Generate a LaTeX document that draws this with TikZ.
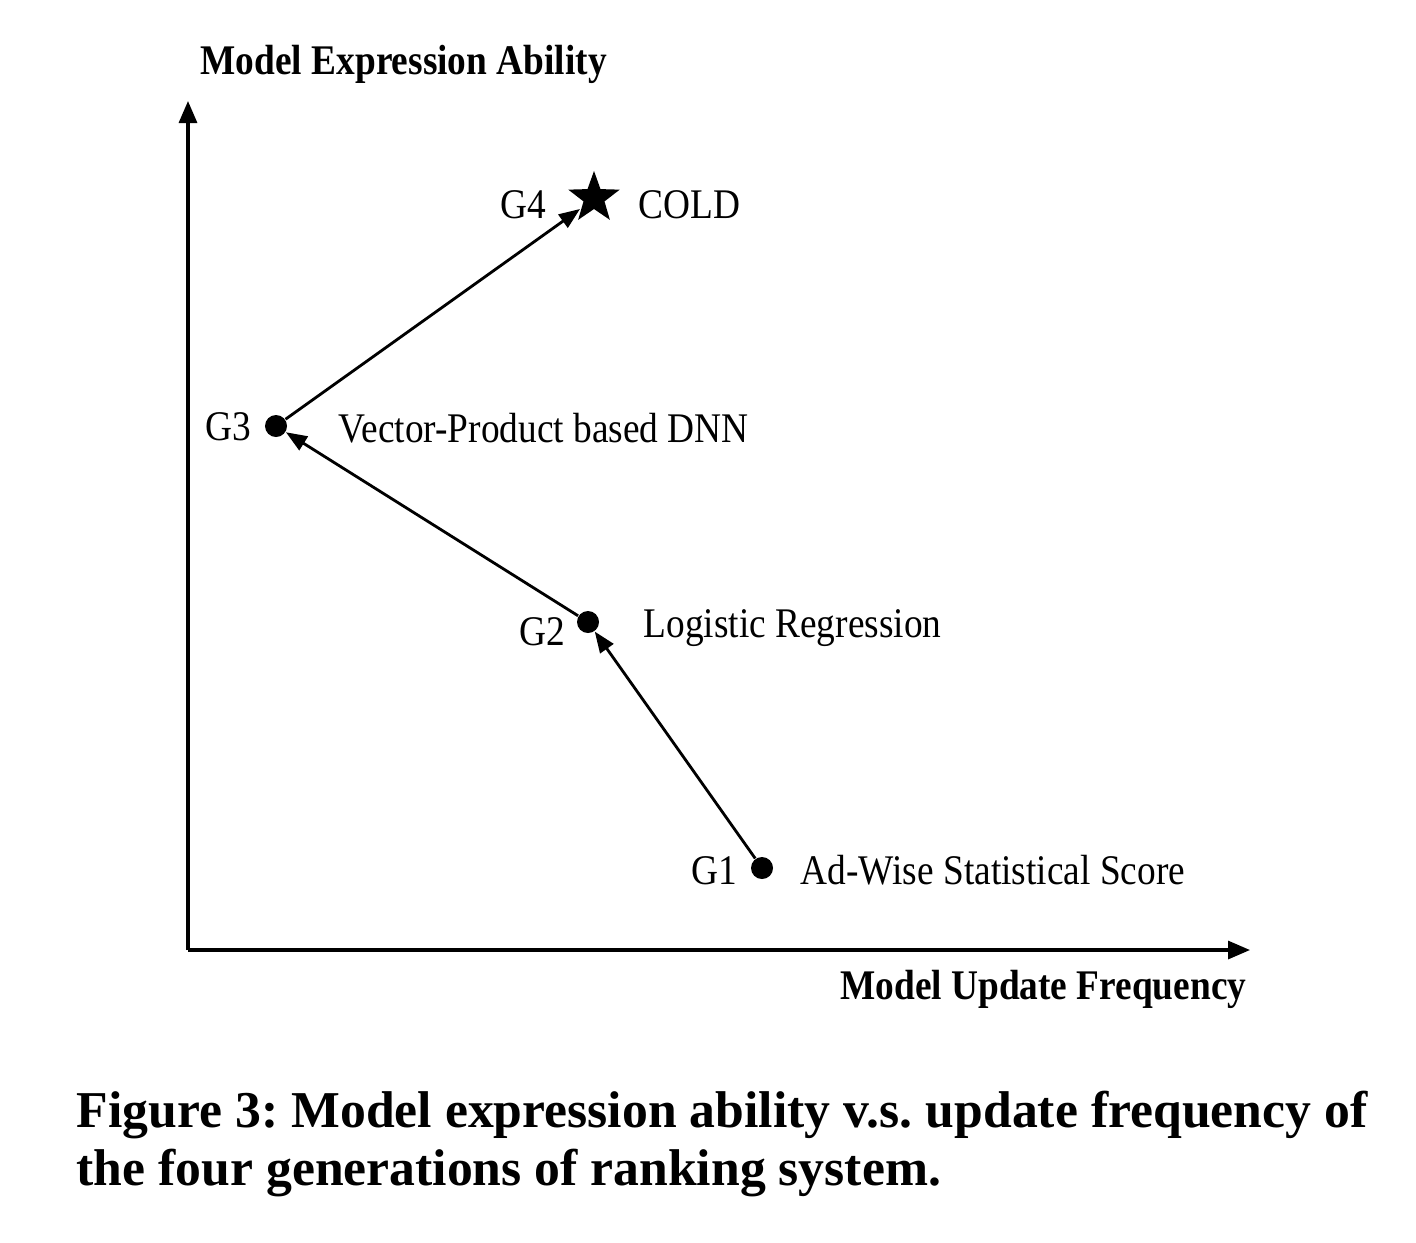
\documentclass[tikz,border=0pt]{standalone}
\usepackage{fontspec}
\setmainfont[FakeStretch=0.885]{Liberation Serif}
\newfontfamily\capfont{Liberation Serif}
\usetikzlibrary{arrows.meta,shapes.geometric}
\begin{document}
\begin{tikzpicture}[x=0.01cm,y=-0.01cm,
  lbl/.style={inner sep=0pt,font=\fontsize{12pt}{14pt}\selectfont},
  axlbl/.style={inner sep=0pt,font=\fontsize{12pt}{14pt}\selectfont\bfseries},
  dot/.style={circle,fill=black,inner sep=0pt,minimum size=0.22cm},
  axis/.style={line width=0.9pt,-{Triangle[length=0.22cm,width=0.18cm]}},
  conn/.style={line width=0.8pt,-{Triangle[length=0.21cm,width=0.16cm]}},
  captext/.style={inner sep=0pt,font=\capfont\fontsize{14.7pt}{17pt}\selectfont\bfseries\frenchspacing}]
\useasboundingbox (0,0) rectangle (1416,1242);
% axes
\coordinate (o) at (188,950);
\coordinate (ytip) at (188,101);
\coordinate (xtip) at (1250,950);
\draw[axis] (o) -- (ytip);
\draw[axis] (o) -- (xtip);
\node[axlbl,anchor=base west] (ylab) at (200,74) {Model Expression Ability};
\node[axlbl,anchor=base east] (xlab) at (1247,999) {Model Update Frequency};
% points
\node[dot] (g1) at (762,868) {};
\node[dot] (g2) at (588,622) {};
\node[dot] (g3) at (276,426) {};
\node[star,star points=5,star point ratio=2.45,fill=black,inner sep=0pt,minimum size=0.54cm] (g4) at (594,198) {};
% labels
\node[lbl,anchor=base east] (t1) at (738,884) {G1};
\node[lbl,anchor=base west] (n1) at (800,884) {Ad-Wise Statistical Score};
\node[lbl,anchor=base east] (t2) at (566,645) {G2};
\node[lbl,anchor=base west] (n2) at (643,637) {Logistic Regression};
\node[lbl,anchor=base east] (t3) at (252,440) {G3};
\node[lbl,anchor=base west] (n3) at (338,442) {Vector-Product based DNN};
\node[lbl,anchor=base east] (t4) at (547,218) {G4};
\node[lbl,anchor=base west] (n4) at (638,218) {COLD};
% connectors
\draw[conn] (g1) -- (g2);
\draw[conn] (g2) -- (g3);
\draw[conn] (g3) -- ([shift={(-14,11)}]g4.center);
% caption
\node[captext,anchor=base west] (c1) at (76,1127) {\makebox[12.9cm][s]{Figure 3: Model expression ability v.s. update frequency of}};
\node[captext,anchor=base west] (c2) at (76,1185) {the four generations of ranking system.};
\end{tikzpicture}
\end{document}
